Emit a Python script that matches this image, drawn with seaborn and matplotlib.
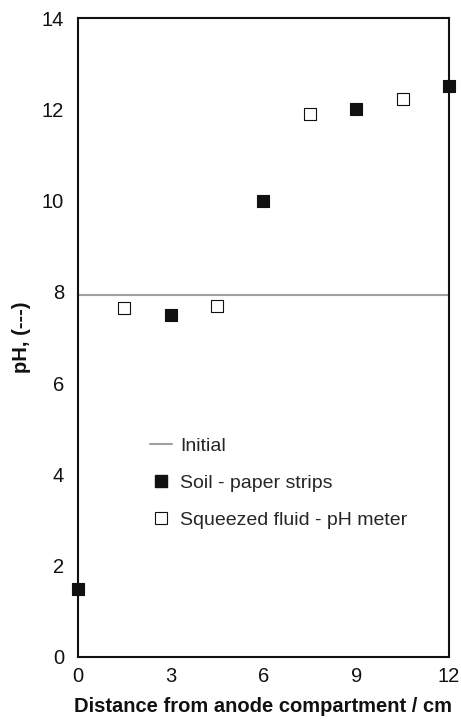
import matplotlib
matplotlib.use("Agg")
import matplotlib.pyplot as plt
import seaborn as sns
import pandas as pd
from matplotlib.lines import Line2D

sns.set_theme(style="white")
plt.rcParams['font.family'] = ['Liberation Sans', 'DejaVu Sans']

# Data
soil_x = [0, 3, 6, 9, 12]
soil_ph = [1.5, 7.5, 10.0, 12.0, 12.5]
fluid_x = [1.5, 4.5, 7.5, 10.5]
fluid_ph = [7.65, 7.68, 11.9, 12.22]
initial_ph = 7.93

x_ticks = [0, 3, 6, 9, 12]
y_ticks = [0, 2, 4, 6, 8, 10, 12, 14]

soil_df = pd.DataFrame({"x": soil_x, "pH": soil_ph})
fluid_df = pd.DataFrame({"x": fluid_x, "pH": fluid_ph})

fig = plt.figure(figsize=(4.61, 7.2), dpi=100)
ax = fig.add_axes([0.169, 0.0875, 0.805, 0.8875])

ax.axhline(initial_ph, color="#a0a0a0", lw=1.5, zorder=1)
sns.scatterplot(data=soil_df, x="x", y="pH", ax=ax, marker="s", s=80,
                color="#111111", edgecolor="#111111", linewidth=0.8,
                clip_on=False, zorder=3)
sns.scatterplot(data=fluid_df, x="x", y="pH", ax=ax, marker="s", s=70,
                facecolor="white", edgecolor="#111111", linewidth=0.8,
                clip_on=False, zorder=3)

ax.set_xlim(0, 12)
ax.set_ylim(0, 14)
ax.set_xticks(x_ticks)
ax.set_yticks(y_ticks)
ax.tick_params(axis="both", length=0, labelsize=14.5, colors="#111111")
ax.tick_params(axis="y", pad=10)
ax.tick_params(axis="x", pad=7)
for sp in ax.spines.values():
    sp.set_color("#111111")
    sp.set_linewidth(1.5)

ax.set_xlabel("Distance from anode compartment / cm", fontsize=14.5,
              fontweight="bold", color="#111111", labelpad=8)
ax.set_ylabel("pH, (---)", fontsize=14.5, fontweight="bold",
              color="#111111", labelpad=8)

handles = [
    Line2D([], [], color="#a0a0a0", lw=1.5),
    Line2D([], [], marker="s", ls="none", markersize=8,
           markerfacecolor="#111111", markeredgecolor="#111111"),
    Line2D([], [], marker="s", ls="none", markersize=8,
           markerfacecolor="white", markeredgecolor="#111111", markeredgewidth=0.8),
]
ax.legend(handles, ["Initial", "Soil - paper strips", "Squeezed fluid - pH meter"],
          loc="upper left", bbox_to_anchor=(0.148, 0.371), frameon=False,
          fontsize=14, handlelength=1.13, handletextpad=0.41, labelspacing=1.0)

fig.savefig("out.png", dpi=100)
